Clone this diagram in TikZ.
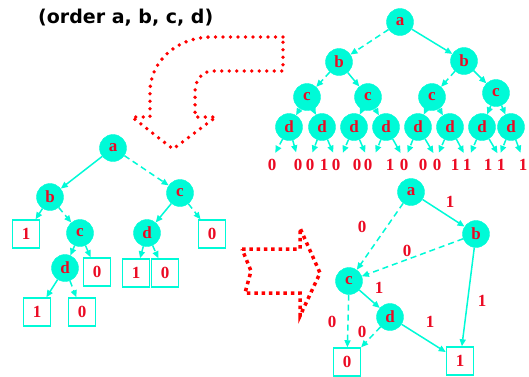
\documentclass[tikz,border=0pt]{standalone}
\usepackage{fontspec}
\setmainfont{Liberation Serif}
\newfontfamily\titlefont{DejaVu Sans}
\usetikzlibrary{arrows.meta}
\definecolor{aqua}{RGB}{0,250,215}
\definecolor{myred}{RGB}{235,10,35}
\begin{document}
\begin{tikzpicture}[x=1pt,y=-1pt,
 vnode/.style={circle,fill=aqua,draw=aqua,minimum size=27pt,inner sep=0pt,text=myred,font=\fontsize{17}{17}\selectfont\bfseries},
 tbox/.style={draw=aqua,line width=1.5pt,fill=white,minimum width=27pt,minimum height=28pt,inner sep=0pt,text=myred,font=\fontsize{17}{17}\selectfont\bfseries},
 leafv/.style={text=myred,inner sep=0pt,font=\fontsize{17}{17}\selectfont\bfseries},
 lab/.style={text=myred,inner sep=0pt,font=\fontsize{17}{17}\selectfont\bfseries},
 edge/.style={draw=aqua,line width=1.5pt,-{Triangle[length=7pt,width=6pt]}},
 zero/.style={edge,dash pattern=on 6pt off 4pt},
 one/.style={edge},
 leafarrow/.style={shorten >=7pt},
 roundDots/.style={draw=red,line width=3.8pt,line cap=round,dash pattern=on 0pt off 7.5pt},
 squareDots/.style={draw=red,line width=3.5pt,dash pattern=on 3.5pt off 3.8pt}
]
\useasboundingbox (0,0) rectangle (529,376);

% title
\node[anchor=west,inner sep=0pt,font=\titlefont\bfseries\fontsize{19}{19}\selectfont] (title) at (38,18) {(order a, b, c, d)};

% ---------- top right full tree ----------
\node[vnode] (ta) at (400,22) {a};
\node[vnode] (tb1) at (339,62) {b};
\node[vnode] (tb2) at (464,61) {b};
\node[vnode] (tc1) at (307,97) {c};
\node[vnode] (tc2) at (368,97) {c};
\node[vnode] (tc3) at (432,97) {c};
\node[vnode] (tc4) at (496,93) {c};
\node[vnode] (td1) at (289,127) {d};
\node[vnode] (td2) at (322,127) {d};
\node[vnode] (td3) at (354,127) {d};
\node[vnode] (td4) at (386,127) {d};
\node[vnode] (td5) at (418,127) {d};
\node[vnode] (td6) at (450,127) {d};
\node[vnode] (td7) at (482,127) {d};
\node[vnode] (td8) at (511,127) {d};

\draw[zero] (ta) -- (tb1);
\draw[one] (ta) -- (tb2);
\draw[zero] (tb1) -- (tc1);
\draw[one] (tb1) -- (tc2);
\draw[zero] (tb2) -- (tc3);
\draw[one] (tb2) -- (tc4);
\draw[zero] (tc1) -- (td1);
\draw[one] (tc1) -- (td2);
\draw[zero] (tc2) -- (td3);
\draw[one] (tc2) -- (td4);
\draw[zero] (tc3) -- (td5);
\draw[one] (tc3) -- (td6);
\draw[zero] (tc4) -- (td7);
\draw[one] (tc4) -- (td8);

\node[leafv] (l1) at (272,165) {0};
\node[leafv] (l2) at (298,165) {0};
\node[leafv] (l3) at (310,165) {0};
\node[leafv] (l4) at (324,165) {1};
\node[leafv] (l5) at (336,165) {0};
\node[leafv] (l6) at (357,165) {0};
\node[leafv] (l7) at (368,165) {0};
\node[leafv] (l8) at (390,165) {1};
\node[leafv] (l9) at (404,165) {0};
\node[leafv] (l10) at (423,165) {0};
\node[leafv] (l11) at (437,165) {0};
\node[leafv] (l12) at (455,165) {1};
\node[leafv] (l13) at (467,165) {1};
\node[leafv] (l14) at (488,165) {1};
\node[leafv] (l15) at (501,165) {1};
\node[leafv] (l16) at (523,165) {1};

\draw[zero,leafarrow] (td1) -- (l1.north);
\draw[one,leafarrow] (td1) -- (l2.north);
\draw[zero,leafarrow] (td2) -- (l3.north);
\draw[one,leafarrow] (td2) -- (l5.north);
\draw[zero,leafarrow] (td3) -- (l4.north -| 340,0);
\draw[one,leafarrow] (td3) -- (l7.north);
\draw[zero,leafarrow] (td4) -- (l6.north -| 373,0);
\draw[one,leafarrow] (td4) -- (l9.north);
\draw[zero,leafarrow] (td5) -- (l8.north -| 405,0);
\draw[one,leafarrow] (td5) -- (l11.north);
\draw[zero,leafarrow] (td6) -- (l10.north -| 436,0);
\draw[one,leafarrow] (td6) -- (l13.north);
\draw[zero,leafarrow] (td7) -- (l12.north -| 468,0);
\draw[one,leafarrow] (td7) -- (l15.north);
\draw[zero,leafarrow] (td8) -- (l14.north -| 498,0);
\draw[one,leafarrow] (td8) -- (l16.north);

% ---------- middle left tree ----------
\node[vnode] (ma) at (113,148) {a};
\node[vnode] (mb) at (50,197) {b};
\node[vnode] (mc2) at (180,193) {c};
\node[vnode] (mc1) at (80,233) {c};
\node[vnode] (md2) at (147,233) {d};
\node[vnode] (md1) at (65,268) {d};
\node[tbox] (mb1) at (26,234) {1};
\node[tbox] (mc2z) at (212,234) {0};
\node[tbox] (mc1z) at (97,272) {0};
\node[tbox] (md2o) at (136,273) {1};
\node[tbox] (md2z) at (165,273) {0};
\node[tbox] (md1o) at (37,312) {1};
\node[tbox] (md1z) at (82,312) {0};

\draw[one] (ma) -- (mb);
\draw[zero] (ma) -- (mc2);
\draw[one] (mb) -- (mb1);
\draw[zero] (mb) -- (mc1);
\draw[one] (mc1) -- (md1);
\draw[zero] (mc1) -- (mc1z);
\draw[one] (mc2) -- (md2);
\draw[zero] (mc2) -- (mc2z);
\draw[one] (md2) -- (md2o);
\draw[zero] (md2) -- (md2z);
\draw[one] (md1) -- (md1o);
\draw[zero] (md1) -- (md1z);

% ---------- bottom right reduced BDD ----------
\node[vnode] (ra) at (411,192) {a};
\node[vnode] (rb) at (476,234) {b};
\node[vnode] (rc) at (349,281) {c};
\node[vnode] (rd) at (390,317) {d};
\node[tbox] (rz) at (347,362) {0};
\node[tbox] (ro) at (460,361) {1};

\draw[one] (ra) -- (rb);
\draw[zero] (ra) -- (rc);
\draw[zero] (rb) -- (rc);
\draw[one] (rb) -- (ro);
\draw[one] (rc) -- (rd);
\draw[zero] (rc) -- (rz);
\draw[zero] (rd) -- (rz);
\draw[one] (rd) -- (ro);

\node[lab] (lab1) at (450,202) {1};
\node[lab] (lab2) at (362,227) {0};
\node[lab] (lab3) at (407,251) {0};
\node[lab] (lab4) at (482,301) {1};
\node[lab] (lab5) at (379,288) {1};
\node[lab] (lab6) at (332,322) {0};
\node[lab] (lab7) at (362,332) {0};
\node[lab] (lab8) at (430,322) {1};

% ---------- dotted arrows ----------
\draw[roundDots] (283,37) -- (212,37) .. controls (176,37) and (150,62) .. (150,92) -- (150,117) -- (132,117) -- (173,149) -- (216,117) -- (195,117) -- (195,92) .. controls (195,80) and (202,71) .. (213,71) -- (283,71) -- cycle;

\draw[squareDots] (242,249) -- (300,249) -- (300,228) -- (320,273) -- (300,316) -- (300,293) -- (245,293) -- (251,271) -- cycle;

\end{tikzpicture}
\end{document}
